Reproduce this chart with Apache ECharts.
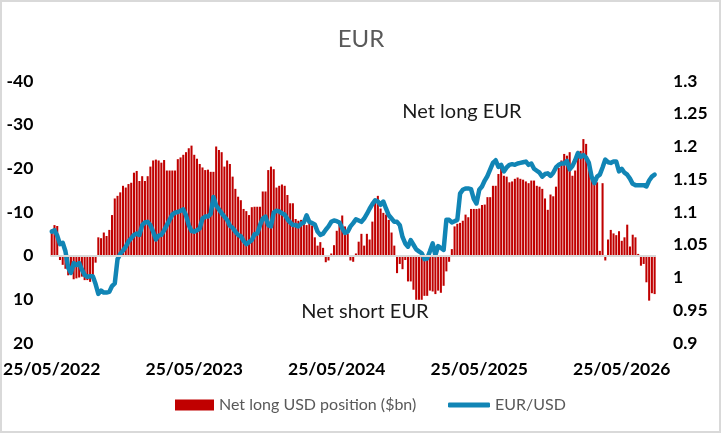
<!DOCTYPE html>
<html>
<head>
<meta charset="utf-8">
<script src="https://cdn.jsdelivr.net/npm/echarts@6/dist/echarts.min.js"></script>
<style>
  html, body { margin: 0; padding: 0; background: #fff; }
  #chart { width: 722px; height: 434px; }
</style>
</head>
<body>
<div id="chart"></div>
<script>
// weekly positioning data
var positions = [
  -6, -7, -6.8, 1, 2.1, 3, 4.5, 4, 5.4, 5.2,
  5, 4.8, 5.6, 5.6, 6, 4.8, 1.6, -4.2, -4, -5.3,
  -4.5, -5.9, -9.3, -13.1, -13.7, -14.5, -16, -15.6, -16.4, -16.7,
  -19, -19.4, -17.1, -18.2, -17.1, -18.2, -20.4, -21.8, -22, -21.8,
  -21.3, -21.9, -19.5, -19.5, -19.5, -19.5, -22.1, -22.5, -23.1, -23.7,
  -24.6, -25.2, -23.1, -22.2, -21, -20.2, -19.6, -19.7, -19.2, -19.2,
  -25, -24.2, -23.7, -20.4, -21.8, -21, -18.1, -15.3, -13.5, -12.7,
  -10.7, -10.2, -9.3, -11.1, -11.2, -11.2, -11.2, -14.7, -14.7, -19.6,
  -20.4, -19.8, -15.6, -16, -16.3, -16, -13.9, -12, -12, -8.4,
  -8, -8.2, -7.6, -7, -7.5, -6.9, -4.2, -2.3, -3.1, -1.8,
  1.5, 1.1, -0.5, -2.4, -5.7, -7.1, -9.2, -6.7, -5, 1.1,
  1.4, -0.5, -3.2, -5, -2.3, -5, -3.7, -7.8, -12.6, -13.7,
  -10.8, -9.8, -9.4, -8.2, -5.3, -2.3, 4, 1.9, 3.1, 1,
  5.9, 5.9, 7.8, 10.1, 10.1, 10.1, 9.2, 9.2, 8, 8.2,
  8.8, 8, 8.5, 6.9, 3.6, 1.4, -1.5, -6.7, -7.3, -7.5,
  -8, -9.4, -8.8, -10.7, -10.7, -10.7, -10.8, -11.6, -11.7, -13.4,
  -13.4, -16, -16, -18.7, -20.4, -18.3, -18.1, -16.8, -17, -17.6,
  -17.9, -17.6, -17.4, -17, -16.6, -17.2, -17.2, -16, -15.8, -15.3,
  -13.1, -10.5, -14, -13.6, -15.8, -20.1, -21.8, -23.3, -22.9, -23.7,
  -18.3, -19.5, -24, -24, -26.7, -25.6, -20.2, -18.7, -17.6, -16.8,
  -1.1, -16.6, 1.1, -3.7, -5.9, -5.1, -4.7, -5.6, -3.4, -4.2,
  -7.1, -2.1, -4.8, -4.2, -0.4, 2.3, 1.9, 6.1, 10.3, 8.6,
  8.8
];

var eurusd = [
  1.070, 1.072, 1.064, 1.051, 1.053, 1.040, 1.015, 1.007, 1.022, 1.019,
  1.022, 1.012, 1.004, 1.001, 1.002, 1.002, 0.990, 0.975, 0.980, 0.977,
  0.977, 0.978, 0.987, 0.991, 1.028, 1.036, 1.041, 1.047, 1.055, 1.060,
  1.065, 1.067, 1.065, 1.080, 1.084, 1.085, 1.080, 1.070, 1.058, 1.064,
  1.065, 1.072, 1.080, 1.088, 1.096, 1.099, 1.100, 1.102, 1.104, 1.095,
  1.080, 1.071, 1.070, 1.072, 1.075, 1.090, 1.093, 1.093, 1.097, 1.123,
  1.110, 1.104, 1.098, 1.093, 1.088, 1.079, 1.076, 1.070, 1.065, 1.063,
  1.056, 1.051, 1.054, 1.057, 1.066, 1.067, 1.080, 1.090, 1.093, 1.080,
  1.078, 1.099, 1.102, 1.101, 1.098, 1.096, 1.089, 1.084, 1.080, 1.080,
  1.078, 1.082, 1.084, 1.095, 1.085, 1.083, 1.081, 1.070, 1.065, 1.067,
  1.073, 1.078, 1.085, 1.087, 1.086, 1.084, 1.075, 1.068, 1.070, 1.078,
  1.083, 1.089, 1.087, 1.085, 1.090, 1.097, 1.105, 1.112, 1.118, 1.116,
  1.111, 1.116, 1.105, 1.095, 1.090, 1.085, 1.085, 1.080, 1.062, 1.052,
  1.047, 1.057, 1.050, 1.043, 1.040, 1.037, 1.028, 1.029, 1.040, 1.052,
  1.034, 1.048, 1.045, 1.042, 1.088, 1.088, 1.084, 1.086, 1.088, 1.128,
  1.134, 1.136, 1.136, 1.135, 1.120, 1.113, 1.134, 1.139, 1.148, 1.155,
  1.165, 1.175, 1.179, 1.169, 1.172, 1.162, 1.168, 1.172, 1.173, 1.172,
  1.174, 1.175, 1.176, 1.177, 1.172, 1.174, 1.166, 1.163, 1.160, 1.154,
  1.158, 1.159, 1.155, 1.160, 1.168, 1.172, 1.174, 1.174, 1.178, 1.165,
  1.170, 1.179, 1.190, 1.184, 1.187, 1.183, 1.175, 1.154, 1.144, 1.154,
  1.157, 1.168, 1.180, 1.176, 1.175, 1.177, 1.177, 1.162, 1.166, 1.160,
  1.157, 1.151, 1.143, 1.141, 1.141, 1.141, 1.141, 1.139, 1.148, 1.154,
  1.157
];

var xTickIdx = [0, 52, 104, 156, 208];
var xTickLabels = ['25/05/2022', '25/05/2023', '25/05/2024', '25/05/2025', '25/05/2026'];

// one category per weekly observation
var weeks = [];
var start = Date.UTC(2022, 4, 25);
for (var i = 0; i < positions.length; i++) {
  var d = new Date(start + i * 7 * 86400000);
  weeks.push(d.toISOString().slice(0, 10));
}

var font = 'Lato, "Open Sans", sans-serif';
var lineColor = '#1185b5';

var myChart = echarts.init(document.getElementById('chart'));
var option = {
  animation: false,
  backgroundColor: '#fff',
  title: {
    text: 'EUR',
    left: 'center',
    top: 22,
    textStyle: { fontFamily: font, fontSize: 24, fontWeight: 'normal', color: '#595959' }
  },
  // two legends so the line key can be thinner than the bar key
  legend: [
    {
      left: 170,
      top: 392,
      itemWidth: 39,
      itemHeight: 11,
      textStyle: { fontFamily: font, fontSize: 16, color: '#595959' },
      data: [{ name: 'Net long USD position ($bn)', icon: 'rect' }]
    },
    {
      left: 443,
      top: 392,
      itemWidth: 42,
      itemHeight: 5,
      textStyle: { fontFamily: font, fontSize: 16, color: '#595959' },
      data: [{ name: 'EUR/USD', icon: 'roundRect', itemStyle: { color: lineColor } }]
    }
  ],
  grid: { left: 47, right: 66, top: 81, bottom: 91 },
  xAxis: {
    type: 'category',
    data: weeks,
    axisLine: { show: false },
    axisTick: { show: false },
    axisLabel: {
      margin: 17,
      fontFamily: font,
      fontSize: 17.5,
      fontWeight: 'bold',
      color: '#000',
      interval: function (index) { return xTickIdx.indexOf(index) >= 0; },
      formatter: function (value, index) {
        var k = xTickIdx.indexOf(index);
        return k >= 0 ? xTickLabels[k] : '';
      }
    }
  },
  yAxis: [
    {
      type: 'value',
      inverse: true,
      min: -40,
      max: 20,
      interval: 10,
      splitLine: { show: false },
      axisLine: { show: false },
      axisTick: { show: false },
      axisLabel: { margin: 17, fontFamily: font, fontSize: 17.5, fontWeight: 'bold', color: '#000' }
    },
    {
      type: 'value',
      min: 0.9,
      max: 1.3,
      interval: 0.05,
      splitLine: { show: false },
      axisLine: { show: false },
      axisTick: { show: false },
      axisLabel: { margin: 17, fontFamily: font, fontSize: 17.5, fontWeight: 'bold', color: '#000' }
    }
  ],
  series: [
    {
      name: 'Net long USD position ($bn)',
      type: 'bar',
      yAxisIndex: 0,
      data: positions,
      barCategoryGap: '25%',
      itemStyle: { color: '#C00000' },
      markLine: {
        silent: true,
        symbol: 'none',
        label: { show: false },
        lineStyle: { color: '#d9d9d9', width: 2, type: 'solid' },
        data: [{ yAxis: 0 }]
      }
    },
    {
      name: 'EUR/USD',
      type: 'line',
      yAxisIndex: 1,
      data: eurusd,
      symbol: 'none',
      lineStyle: { color: lineColor, width: 4.5, join: 'round', cap: 'round' },
      itemStyle: { color: lineColor }
    }
  ],
  graphic: [
    {
      type: 'rect',
      shape: { x: 1, y: 1, width: 719, height: 431 },
      style: { fill: 'none', stroke: '#d9d9d9', lineWidth: 2 },
      silent: true
    },
    {
      type: 'text',
      style: { x: 462, y: 112, text: 'Net long EUR', align: 'center', verticalAlign: 'middle',
               font: '20px ' + font, fill: '#1a1a1a' }
    },
    {
      type: 'text',
      style: { x: 365, y: 312, text: 'Net short EUR', align: 'center', verticalAlign: 'middle',
               font: '20px ' + font, fill: '#1a1a1a' }
    }
  ]
};

myChart.setOption(option);
</script>
</body>
</html>
